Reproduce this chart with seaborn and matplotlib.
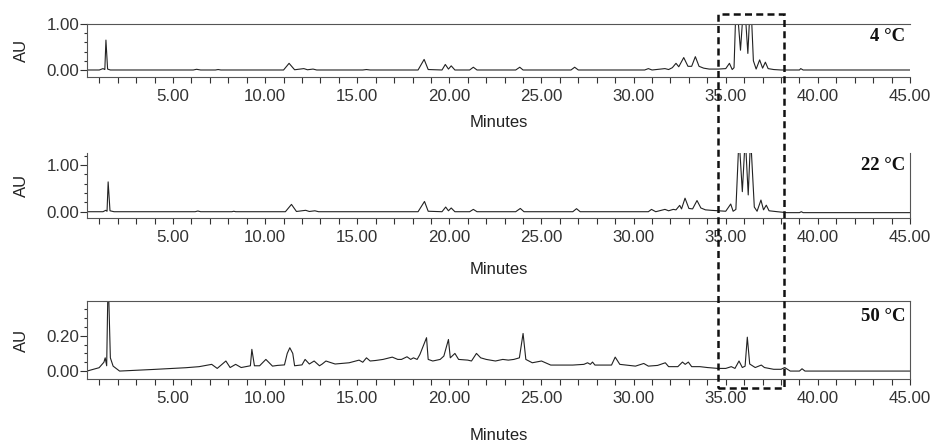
import numpy as np
import pandas as pd
import matplotlib
matplotlib.use("Agg")
import matplotlib.pyplot as plt
import seaborn as sns
from matplotlib.ticker import MultipleLocator, FormatStrFormatter
from matplotlib.patches import Rectangle
from matplotlib.transforms import blended_transform_factory

# chromatogram traces (minutes, AU)
t_4c = [0.33, 1.0, 1.2, 1.30, 1.36, 1.45, 1.6, 6.1, 6.28, 6.5, 7.3, 7.45, 7.6,
        11.0, 11.3, 11.6, 12.1, 12.3, 12.6, 12.8, 15.3, 15.5, 15.7, 18.3, 18.63,
        18.85, 19.6, 19.78, 19.95, 20.1, 20.3, 21.1, 21.3, 21.5, 23.6, 23.82, 24.0,
        26.6, 26.8, 27.0, 30.6, 30.8, 31.0, 31.7, 31.9, 32.1, 32.3, 32.45, 32.72,
        32.95, 33.15, 33.35, 33.55, 33.8, 34.1, 34.6, 35.0, 35.2, 35.35, 35.45,
        35.57, 35.8, 36.0, 36.2, 36.35, 36.5, 36.65, 36.84, 37.0, 37.15, 37.3,
        37.6, 38.0, 39.0, 39.07, 39.2, 45.0]
au_4c = [0.0, 0.0, 0.03, 0.01, 0.65, 0.02, 0.0, 0.0, 0.015, 0.0, 0.0, 0.01, 0.0,
         0.0, 0.145, 0.005, 0.03, 0.005, 0.02, 0.0, 0.0, 0.01, 0.0, 0.0, 0.23,
         0.01, 0.0, 0.12, 0.02, 0.09, 0.0, 0.0, 0.06, 0.0, 0.0, 0.06, 0.0,
         0.0, 0.06, 0.0, 0.0, 0.03, 0.0, 0.03, 0.01, 0.05, 0.145, 0.07, 0.27,
         0.08, 0.08, 0.29, 0.08, 0.04, 0.02, 0.02, 0.03, 0.145, 0.01, 0.05,
         1.6, 0.43, 1.6, 0.36, 1.6, 0.2, 0.02, 0.22, 0.04, 0.17, 0.03,
         0.01, 0.0, 0.0, 0.03, 0.0, 0.0]

t_22c = [0.33, 1.2, 1.35, 1.42, 1.48, 1.58, 1.8, 6.2, 6.35, 6.5, 8.2, 8.3, 8.4,
         11.1, 11.43, 11.7, 12.2, 12.4, 12.7, 12.9, 18.3, 18.65, 18.85, 19.6,
         19.8, 19.95, 20.1, 20.3, 21.1, 21.3, 21.5, 23.6, 23.85, 24.05, 26.7,
         26.9, 27.1, 30.8, 30.97, 31.2, 31.7, 31.9, 32.15, 32.3, 32.5, 32.6,
         32.79, 33.0, 33.2, 33.44, 33.65, 33.9, 34.2, 34.6, 35.0, 35.27, 35.4,
         35.55, 35.72, 35.9, 36.06, 36.22, 36.35, 36.55, 36.7, 36.91, 37.05,
         37.2, 37.35, 37.8, 38.3, 39.0, 39.1, 39.2, 45.0]
au_22c = [0.0, 0.0, 0.03, 0.01, 0.64, 0.02, 0.0, 0.0, 0.015, 0.0, 0.0, 0.01, 0.0,
          0.0, 0.157, 0.005, 0.03, 0.005, 0.02, 0.0, 0.0, 0.22, 0.01, 0.0,
          0.1, 0.02, 0.08, 0.0, 0.0, 0.05, 0.0, 0.0, 0.07, 0.0, 0.0,
          0.065, 0.0, 0.0, 0.05, 0.0, 0.05, 0.02, 0.05, 0.04, 0.136, 0.06,
          0.29, 0.07, 0.06, 0.24, 0.08, 0.04, 0.03, 0.02, 0.01, 0.165, 0.01,
          0.05, 1.6, 0.43, 1.6, 0.36, 1.6, 0.1, 0.01, 0.25, 0.04,
          0.14, 0.02, 0.0, -0.02, -0.02, 0.0, -0.02, -0.02]

t_50c = [0.33, 0.99, 1.25, 1.32, 1.40, 1.48, 1.6, 1.75, 2.1, 3.9, 5.7, 6.42, 7.1,
         7.4, 7.87, 8.1, 8.4, 8.7, 9.2, 9.28, 9.42, 9.7, 10.04, 10.4, 10.67,
         11.05, 11.2, 11.34, 11.5, 11.6, 12.0, 12.17, 12.4, 12.66, 12.95, 13.1,
         13.3, 13.5, 13.8, 14.56, 15.1, 15.3, 15.5, 15.7, 16.0, 16.4, 16.9, 17.2,
         17.4, 17.7, 17.9, 18.05, 18.25, 18.4, 18.76, 18.85, 19.1, 19.5, 19.7,
         19.95, 20.05, 20.3, 20.5, 21.0, 21.2, 21.47, 21.7, 22.0, 22.5, 22.9,
         23.2, 23.5, 23.8, 24.0, 24.15, 24.5, 25.0, 25.5, 26.7, 27.3, 27.5,
         27.65, 27.77, 27.9, 28.8, 29.0, 29.25, 30.1, 30.55, 30.8, 31.3, 31.72,
         31.9, 32.4, 32.65, 32.8, 32.97, 33.15, 33.6, 34.0, 34.58, 35.0, 35.3,
         35.5, 35.72, 35.9, 36.05, 36.17, 36.3, 36.6, 36.93, 37.1, 37.6, 38.0,
         38.2, 38.5, 39.0, 39.14, 39.3, 45.0]
au_50c = [0.0, 0.019, 0.05, 0.075, 0.03, 0.55, 0.075, 0.028, 0.0, 0.009, 0.019,
          0.025, 0.038, 0.015, 0.057, 0.02, 0.038, 0.02, 0.03, 0.123, 0.03,
          0.03, 0.066, 0.028, 0.032, 0.035, 0.1, 0.132, 0.1, 0.03, 0.035, 0.066,
          0.04, 0.057, 0.03, 0.04, 0.057, 0.05, 0.04, 0.047, 0.062, 0.05, 0.075,
          0.057, 0.06, 0.066, 0.079, 0.066, 0.066, 0.081, 0.066, 0.075, 0.066,
          0.094, 0.189, 0.066, 0.057, 0.066, 0.085, 0.179, 0.075, 0.1, 0.066,
          0.062, 0.057, 0.1, 0.075, 0.066, 0.057, 0.066, 0.062, 0.066, 0.075,
          0.213, 0.066, 0.047, 0.057, 0.034, 0.034, 0.038, 0.047, 0.038, 0.051,
          0.034, 0.034, 0.079, 0.038, 0.028, 0.043, 0.028, 0.032, 0.047, 0.025,
          0.025, 0.051, 0.038, 0.051, 0.025, 0.025, 0.02, 0.015, 0.015, 0.025,
          0.015, 0.057, 0.02, 0.028, 0.192, 0.04, 0.02, 0.034, 0.02, 0.01, 0.01,
          0.02, 0.0, 0.0, 0.013, 0.0, 0.0]

temps = ["4 °C", "22 °C", "50 °C"]
ylims = [(-0.152, 1.0), (-0.135, 1.26), (-0.045, 0.397)]
y_major = [[0.0, 1.0], [0.0, 1.0], [0.0, 0.2]]
y_minor = [0.2, 0.2, 0.05]
window = (34.56, 38.14)   # dashed box, minutes

sns.set_style("ticks")
plt.rcParams["font.family"] = ["Liberation Sans", "DejaVu Sans"]

fig = plt.figure(figsize=(9.34, 4.45), dpi=100)
# axes boxes in figure fraction
boxes = [[0.0931, 0.8270, 0.8812, 0.1191],
         [0.0931, 0.5101, 0.8812, 0.1461],
         [0.0931, 0.1483, 0.8812, 0.1753]]
hidden = [["right"], ["top"], []]
label_y = [-0.717, -0.677, -0.628]
temp_y = [0.755, 0.815, 0.80]

traces = [(t_4c, au_4c), (t_22c, au_22c), (t_50c, au_50c)]
axes = []
for i, (t, au) in enumerate(traces):
    ax = fig.add_axes(boxes[i])
    df = pd.DataFrame({"Minutes": t, "AU": au})
    sns.lineplot(data=df, x="Minutes", y="AU", ax=ax, color="#222222",
                 linewidth=0.8, estimator=None, sort=False)
    ax.set_xlim(0.33, 45.0)
    ax.set_ylim(*ylims[i])
    ax.xaxis.set_major_locator(MultipleLocator(5))
    ax.xaxis.set_minor_locator(MultipleLocator(1))
    ax.xaxis.set_major_formatter(FormatStrFormatter("%.2f"))
    ax.set_yticks(y_major[i])
    ax.yaxis.set_minor_locator(MultipleLocator(y_minor[i]))
    ax.yaxis.set_major_formatter(FormatStrFormatter("%.2f"))
    ax.tick_params(axis="x", which="both", direction="out", length=4.2,
                   width=0.8, pad=4.5, labelsize=12.2, colors="#333333")
    ax.tick_params(axis="y", which="major", direction="out", length=5,
                   width=0.8, pad=0.5, labelsize=12.2, colors="#333333")
    ax.tick_params(axis="y", which="minor", direction="out", length=2.2,
                   width=0.8, colors="#333333")
    for side, sp in ax.spines.items():
        sp.set_color("#555555")
        sp.set_linewidth(0.8)
        if side in hidden[i]:
            sp.set_visible(False)
    ax.set_xlabel("Minutes", fontsize=12, color="#222222")
    ax.xaxis.set_label_coords(0.5, label_y[i])
    ax.set_ylabel("AU", fontsize=12, color="#222222")
    ax.yaxis.set_label_coords(-0.07, 0.5)
    ax.text(0.994, temp_y[i], temps[i], transform=ax.transAxes, ha="right",
            va="center", fontfamily="Liberation Serif", fontweight="bold",
            fontsize=13.5, color="#111111")
    axes.append(ax)

# dashed window spanning all three panels
blend = blended_transform_factory(axes[2].transData, fig.transFigure)
rect = Rectangle((window[0], 0.128), window[1] - window[0], 0.9685 - 0.128,
                 transform=blend, fill=False, edgecolor="#111111",
                 linewidth=1.8, linestyle=(0, (2.8, 1.7)), clip_on=False)
fig.add_artist(rect)

fig.savefig("out.png", dpi=100)
